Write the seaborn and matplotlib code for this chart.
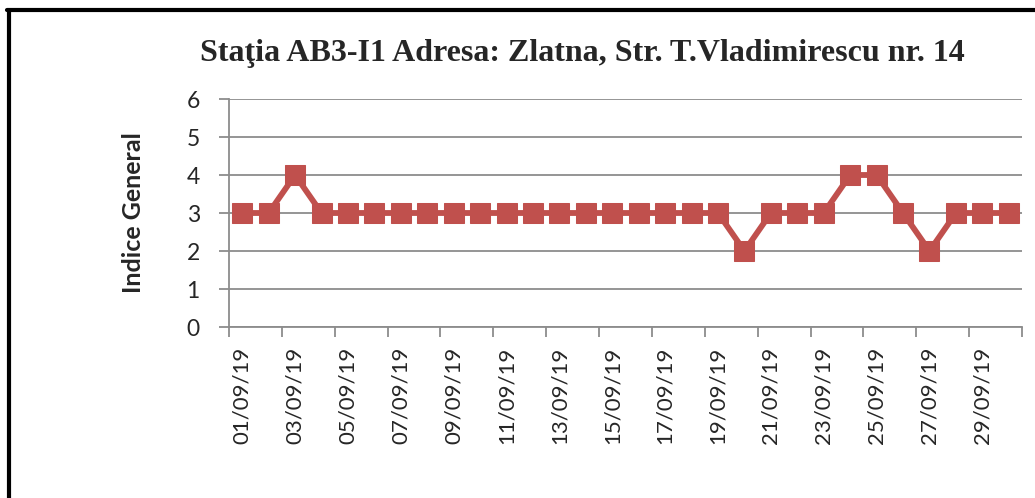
import matplotlib
matplotlib.use("Agg")
import matplotlib.pyplot as plt
import seaborn as sns
import pandas as pd
import numpy as np

days = [f"{d:02d}/09/19" for d in range(1, 31)]
values = [3, 3, 4, 3, 3, 3, 3, 3, 3, 3, 3, 3, 3, 3, 3, 3, 3, 3, 3, 2,
          3, 3, 3, 4, 4, 3, 2, 3, 3, 3]
title = "Staţia AB3-I1 Adresa: Zlatna, Str. T.Vladimirescu nr. 14"
ylabel = "Indice General"
yticks = [0, 1, 2, 3, 4, 5, 6]

sns.set_theme(style="white")
plt.rcParams['font.family'] = ['Lato', 'DejaVu Sans']

df = pd.DataFrame({"idx": np.arange(1, len(days) + 1), "val": values, "day": days})

fig = plt.figure(figsize=(10.35, 4.98), dpi=100)
ax = fig.add_axes([229/1035, 1 - 327/498, (1022 - 229)/1035, (327 - 99)/498])

grid_c = "#8c8c8c"
sns.lineplot(data=df, x="idx", y="val", ax=ax, color="#C0504D", linewidth=4.2,
             marker="s", markersize=14.5, markeredgecolor="#C0504D", zorder=3)

ax.set_xlim(0.5, len(days) + 0.5)
ax.set_ylim(0, 6)
ax.set_yticks(yticks)
ax.set_yticklabels([str(t) for t in yticks], fontsize=16.5)
ax.yaxis.grid(True, color=grid_c, linewidth=1.3)
ax.set_axisbelow(True)

# boundary ticks every 2 categories
ax.set_xticks(np.arange(0.5, len(days) + 1, 2))
ax.set_xticklabels([])
ax.set_xticks(df["idx"][::2], minor=True)
ax.set_xticklabels(df["day"][::2], minor=True, rotation=90, fontsize=16)
ax.tick_params(axis="x", which="major", length=7, width=1.3, color=grid_c, direction="out", bottom=True)
ax.tick_params(axis="x", which="minor", length=0, pad=14, bottom=True)
ax.tick_params(axis="y", length=7, width=1.3, color=grid_c, direction="out", left=True, pad=14)

for s in ["top", "right"]:
    ax.spines[s].set_visible(False)
for s in ["left", "bottom"]:
    ax.spines[s].set_color(grid_c)
    ax.spines[s].set_linewidth(1.3)

ax.set_xlabel("")
ax.set_ylabel(ylabel, fontsize=18, fontweight="bold", labelpad=30)

fig.text(582/1035, 1 - 53/498, title, ha="center", va="center",
         fontsize=23, fontweight="bold", family=["Liberation Serif", "DejaVu Serif"])

# outer frame (left and top only visible)
fig.add_artist(plt.Line2D([8.5/1035, 8.5/1035], [0, 1 - 10.5/498], color="black", linewidth=3, transform=fig.transFigure))
fig.add_artist(plt.Line2D([7/1035, 1], [1 - 10.5/498, 1 - 10.5/498], color="black", linewidth=3, transform=fig.transFigure))

fig.savefig("out.png", dpi=100, facecolor="white")
